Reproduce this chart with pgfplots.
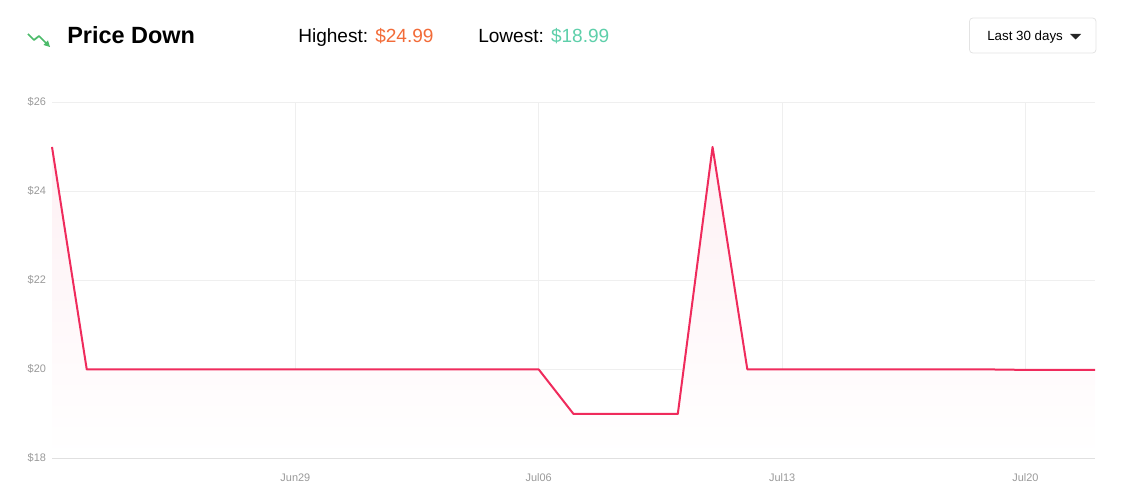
\documentclass[border=0pt]{standalone}
\usepackage{pgfplots}
\pgfplotsset{compat=1.18}
\usepackage{fontspec}
\setmainfont{Liberation Sans}
\definecolor{linec}{HTML}{EF2B5C}
\definecolor{gridc}{HTML}{EFEFEF}
\definecolor{ticklab}{HTML}{999999}
\definecolor{hi}{HTML}{F26B38}
\definecolor{lo}{HTML}{5ECFAA}
\definecolor{icon}{HTML}{4CBB6A}
\definecolor{btnb}{HTML}{E3E3E3}
\begin{document}
\begin{tikzpicture}[x=0.75pt,y=0.75pt]
\path[use as bounding box] (0,0) rectangle (1125,500);
% header
\draw[icon,line width=1.3pt,line join=round] (28,466) -- (34,460) -- (39,464) -- (46,457);
\fill[icon] (50,453) -- (43.5,455) -- (48,459.5) -- cycle;
\node[anchor=base west,inner sep=0pt,font=\fontsize{17.6}{20}\selectfont\bfseries] at (67,456) {Price Down};
\node[anchor=base west,inner sep=0pt,font=\fontsize{14.3}{16}\selectfont] at (298,457) {Highest: \textcolor{hi}{\$24.99}};
\node[anchor=base west,inner sep=0pt,font=\fontsize{14.3}{16}\selectfont] at (478,457) {Lowest: \textcolor{lo}{\$18.99}};
\draw[btnb,line width=0.6pt,rounded corners=2.5pt] (969.5,447) rectangle (1096,482);
\node[anchor=base west,inner sep=0pt,font=\fontsize{10}{12}\selectfont] at (987,459) {Last 30 days};
\fill[black!85] (1070,466) -- (1081,466) -- (1075.5,460.5) -- cycle;
\begin{axis}[
  at={(39pt,31.5pt)}, anchor=south west,
  scale only axis, width=782.25pt, height=267pt,
  xmin=0, xmax=30, ymin=18, ymax=26,
  xtick={7,14,21,28}, xticklabels={Jun29,Jul06,Jul13,Jul20},
  ytick={18,20,22,24,26}, yticklabels={\$18,\$20,\$22,\$24,\$26},
  axis x line*=bottom, axis y line*=left,
  x axis line style={draw=black!12,line width=0.8pt,-},
  y axis line style={draw=none,-},
  major tick length=0pt,
  grid=major, major grid style={draw=gridc,line width=0.6pt},
  tick label style={font=\fontsize{8.2}{10}\selectfont,text=ticklab},
  yticklabel style={xshift=-1pt},
  xticklabel style={yshift=-8.5pt},
  clip=false,
]
\addplot[draw=none,top color=linec!7,bottom color=white,shading=axis] coordinates {
(0,24.99) (1,19.99) (14,19.99) (15,18.99) (18,18.99) (19,24.99) (20,19.99) (27,19.99) (28,19.98) (30,19.98)
} \closedcycle;
\addplot[linec,line width=1.5pt,line join=round] coordinates {
(0,24.99) (1,19.99) (14,19.99) (15,18.99) (18,18.99) (19,24.99) (20,19.99) (27,19.99) (28,19.98) (30,19.98)
};
\end{axis}
\end{tikzpicture}
\end{document}
